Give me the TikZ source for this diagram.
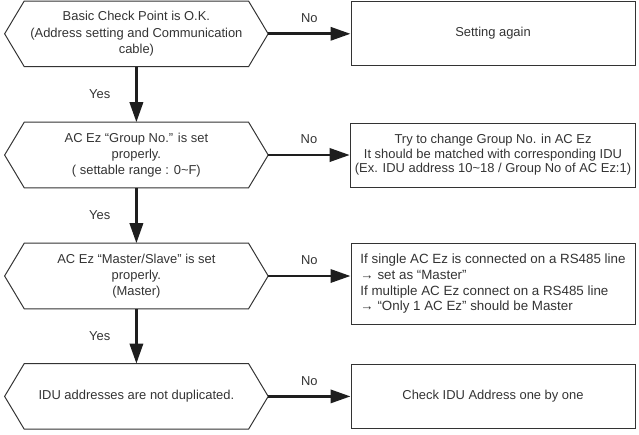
\documentclass[tikz,border=0pt]{standalone}
\usepackage{fontspec}
\setmainfont{Liberation Sans}
\usetikzlibrary{
  positioning,
  arrows.meta
}
\definecolor{ink}{HTML}{333333}
\definecolor{flow}{HTML}{1E1E1E}

\begin{document}
\begin{tikzpicture}[
  check/.style={minimum width=6.575cm, minimum height=1.625cm, align=center,
                font=\fontsize{9.2}{11.5}\selectfont, text=ink, inner sep=0pt},
  action/.style={draw=ink, line width=0.7pt, minimum width=7.1cm, minimum height=1.6cm,
                 align=center, font=\fontsize{9.2}{10.3}\selectfont, text=ink},
  flowarrow/.style={draw=flow, line width=2pt, -{Triangle[length=0.5cm, width=0.33cm]}},
  answer/.style={font=\fontsize{9.2}{11}\selectfont, text=ink},
]
  \useasboundingbox (0,0) rectangle (15.975,-10.85);

  \node[check] (q1) at (3.41, -0.845) {Basic Check Point is O.K.\\
    (Address setting and Communication\\cable)};
  \node[check] (q2) at (3.41, -3.875) {AC Ez “Group No.” is set\\
    properly.\\( settable range : 0\textasciitilde F)};
  \node[check] (q3) at (3.41, -6.9) {AC Ez “Master/Slave” is set\\
    properly.\\(Master)};
  \node[check] (q4) at (3.41, -9.91) {IDU addresses are not duplicated.};

  \foreach \q in {q1,q2,q3,q4}
    \draw[ink, line width=0.7pt]
      ([xshift=0.49cm]\q.north west) -- ([xshift=-0.49cm]\q.north east) -- (\q.east)
      -- ([xshift=-0.49cm]\q.south east) -- ([xshift=0.49cm]\q.south west) -- (\q.west) -- cycle;

  \node[action] (r1) at (12.325, -0.825) {Setting again};
  \node[action] (r2) at (12.325, -3.875) {Try to change Group No. in AC Ez\\
    It should be matched with corresponding IDU\\
    (Ex. IDU address 10\textasciitilde 18 / Group No of AC Ez:1)};
  \node[action, align=left, minimum height=2.025cm, font=\fontsize{9.5}{11.3}\selectfont]
    (r3) at (12.325, -7.09) {If single AC Ez is connected on a RS485 line\\
    → set as “Master”\\
    If multiple AC Ez connect on a RS485 line\\
    → “Only 1 AC Ez” should be Master};
  \node[action] (r4) at (12.325, -9.91) {Check IDU Address one by one};

  \draw[flowarrow] (q1.south) -- node[answer, left=0.5cm] {Yes} (q2.north);
  \draw[flowarrow] (q2.south) -- node[answer, left=0.5cm] {Yes} (q3.north);
  \draw[flowarrow] (q3.south) -- node[answer, left=0.5cm] {Yes} (q4.north);

  \foreach \i in {1,...,4}
    \draw[flowarrow] (q\i.east) -- node[answer, above=0.12cm] {No} (q\i.east -| r\i.west);
\end{tikzpicture}
\end{document}
